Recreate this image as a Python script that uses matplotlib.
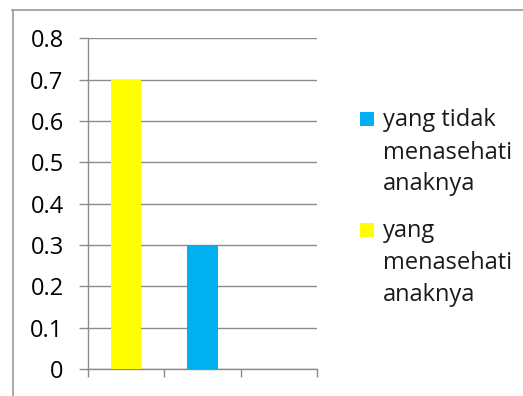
import matplotlib
matplotlib.use("Agg")
import matplotlib.pyplot as plt
from matplotlib.patches import Rectangle
from matplotlib.lines import Line2D

# Data
categories = ["", "", ""]
values = [0.7, 0.3, 0.0]
bar_colors = ["#FFFF00", "#00B0F0", "#FFFFFF"]
legend_labels = ["yang tidak\nmenasehati\nanaknya", "yang\nmenasehati\nanaknya"]
legend_colors = ["#00B0F0", "#FFFF00"]
yticks = [0, 0.1, 0.2, 0.3, 0.4, 0.5, 0.6, 0.7, 0.8]
ytick_labels = ["0", "0.1", "0.2", "0.3", "0.4", "0.5", "0.6", "0.7", "0.8"]

plt.rcParams["font.family"] = ["Open Sans", "DejaVu Sans"]
W, H = 523, 396
PX = 72 / 100  # points per pixel
fig = plt.figure(figsize=(W / 100, H / 100), dpi=100)
fig.patch.set_facecolor("white")

gray = "#8C8C8C"
ax = fig.add_axes([87.7 / W, 1 - 369 / H, (317 - 87.7) / W, (369 - 38.3) / H])
x = list(range(len(categories)))
for xi, v, c in zip(x, values, bar_colors):
    if v > 0:
        ax.bar(xi, v, width=0.4, color=c, zorder=3)
ax.set_xlim(-0.5, len(categories) - 0.5)
ax.set_ylim(0, 0.8)
ax.set_yticks(yticks)
ax.set_yticklabels(ytick_labels, fontsize=17, color="black")
ax.set_xticks([i - 0.5 for i in range(len(categories) + 1)])
ax.set_xticklabels([])
ax.tick_params(axis="y", length=9 * PX, width=1, color=gray, pad=15 * PX)
ax.tick_params(axis="x", length=8 * PX, width=1, color=gray)
ax.yaxis.grid(True, color=gray, linewidth=1, zorder=0)
ax.set_axisbelow(True)
for s in ["top", "right"]:
    ax.spines[s].set_visible(False)
for s in ["left", "bottom"]:
    ax.spines[s].set_color(gray)
    ax.spines[s].set_linewidth(1)

# Legend (manual, handles aligned with first text line, as in Excel)
entry_first_baseline = [126.5, 237.0]
line_step = 32.0
box_top = [112.0, 223.0]
box_x, box_size, text_x = 360.0, 14.0, 383.0
for lab, col, base, btop in zip(legend_labels, legend_colors, entry_first_baseline, box_top):
    fig.add_artist(Rectangle((box_x / W, 1 - (btop + box_size) / H), box_size / W, box_size / H,
                             transform=fig.transFigure, facecolor=col, edgecolor="none"))
    for k, line in enumerate(lab.split("\n")):
        fig.text(text_x / W, 1 - (base + k * line_step) / H, line, fontsize=17,
                 color="#1A1A1A", ha="left", va="baseline")

# chart border
fig.add_artist(Line2D([12.5 / W, 12.5 / W], [0, 1 - 9.5 / H], transform=fig.transFigure, color="#9A9A9A", lw=1.2))
fig.add_artist(Line2D([12 / W, 1], [1 - 9.5 / H, 1 - 9.5 / H], transform=fig.transFigure, color="#9A9A9A", lw=1.2))

fig.savefig("out.png", dpi=100)
